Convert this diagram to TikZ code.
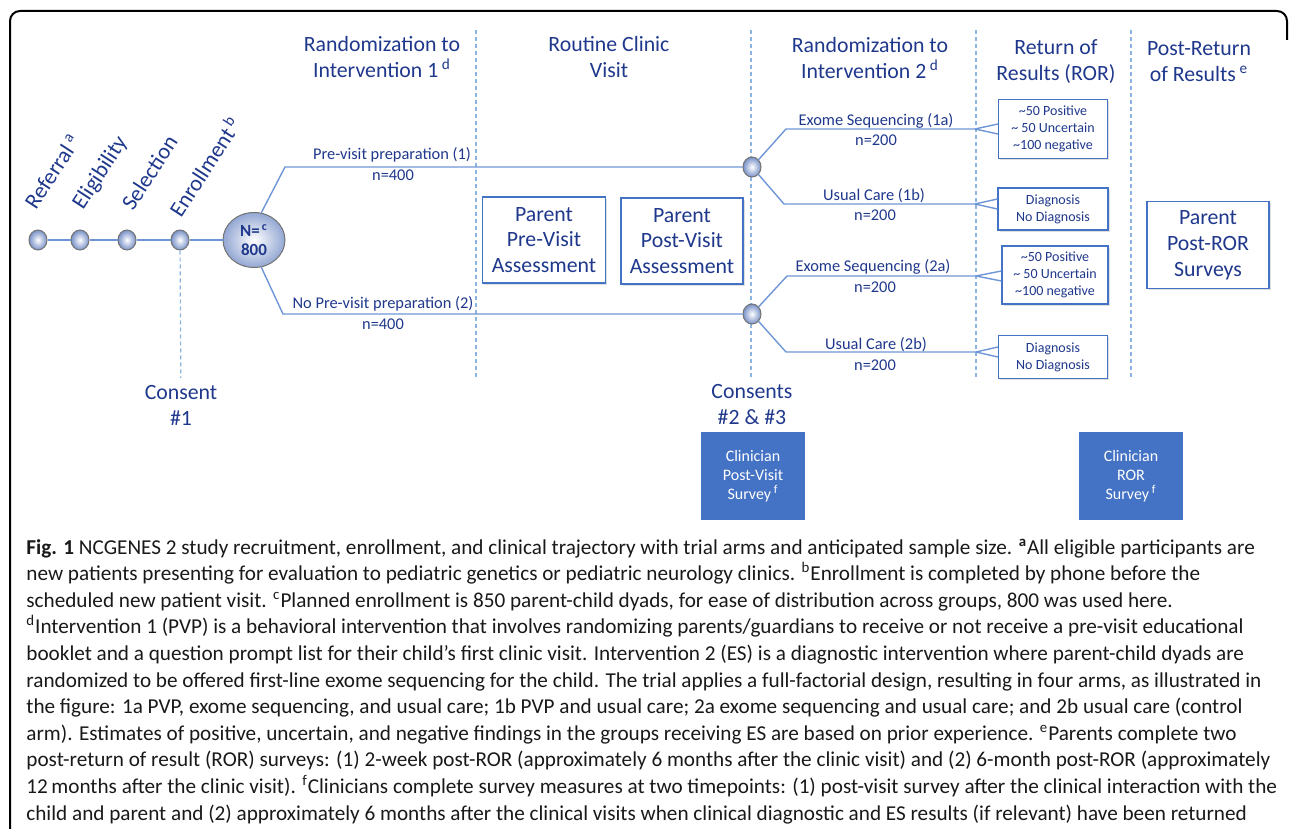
\documentclass[tikz,border=0pt]{standalone}
\usepackage{fontspec}
\setmainfont{Carlito}
\usetikzlibrary{shapes.geometric,shadows,calc}

\definecolor{navy}{RGB}{31,56,140}
\definecolor{lineblue}{RGB}{110,150,215}
\definecolor{boxblue}{RGB}{68,114,196}
\definecolor{divblue}{RGB}{140,180,225}
\definecolor{beadblue}{RGB}{120,145,200}

\begin{document}
\begin{tikzpicture}[x=0.5pt,y=-0.5pt,
  head/.style={align=center, text=navy, font=\fontsize{10.9}{13}\selectfont},
  steplabel/.style={text=navy, rotate=57, anchor=base west, inner sep=0pt,
    font=\fontsize{11.2}{13}\selectfont},
  flow/.style={draw=lineblue, line width=0.7pt},
  divider/.style={draw=divblue, line width=0.6pt, dash pattern=on 2pt off 1.5pt},
  bead/.style={ellipse, draw=black!55, line width=0.5pt, inner sep=0pt,
    minimum width=9pt, minimum height=10pt, inner color=white, outer color=beadblue},
  bignode/.style={ellipse, draw=black!55, line width=0.5pt, inner sep=0pt,
    minimum width=31pt, minimum height=27.5pt, inner color=white, outer color=beadblue!80,
    align=center, text=navy, font=\bfseries\fontsize{8.5}{9.5}\selectfont},
  armlabel/.style={text=navy, inner sep=0pt, font=\fontsize{8.2}{9.6}\selectfont},
  parentbox/.style={draw=boxblue, line width=0.6pt, fill=white, align=center, text=navy,
    inner sep=0pt, font=\fontsize{10.9}{12.9}\selectfont,
    drop shadow={shadow xshift=0.8pt, shadow yshift=-0.8pt, opacity=0.25}},
  resbox/.style={draw=boxblue, line width=0.6pt, fill=white, align=center, text=navy,
    inner sep=0pt, font=\fontsize{7}{8.5}\selectfont,
    drop shadow={shadow xshift=0.8pt, shadow yshift=-0.8pt, opacity=0.25}},
  clinbox/.style={fill=boxblue, align=center, text=white, inner sep=0pt,
    minimum width=52pt, minimum height=44pt, font=\fontsize{8}{9.5}\selectfont}]

\useasboundingbox (0,0) rectangle (1292,829);

% -------------------------------------------------
% Frame
% -------------------------------------------------
\draw[line width=1pt, rounded corners=5pt] (10,835) -- (10,11) -- (1287,11) -- (1287,40);

% -------------------------------------------------
% Column headings and dividers
% -------------------------------------------------
\node[head] (hrand1) at (382,57) {Randomization to\\Intervention 1\,\textsuperscript{d}};
\node[head] (hvisit) at (609,57) {Routine Clinic\\Visit};
\node[head] (hrand2) at (870,58) {Randomization to\\Intervention 2\,\textsuperscript{d}};
\node[head] (hror)   at (1056,62) {Return of\\Results (ROR)};
\node[head] (hpost)  at (1199,62) {Post-Return\\of Results\,\textsuperscript{e}};

\foreach \x in {476,751,976,1131}
  \draw[divider] (\x,30) -- (\x,378);

% -------------------------------------------------
% Recruitment steps
% -------------------------------------------------
\node[bead] (ref)  at (38,240) {};
\node[bead] (elig) at (80,240) {};
\node[bead] (sel)  at (127,240) {};
\node[bead] (enr)  at (180,240) {};
\node[bignode] (n800) at (254,240) {N=\textsuperscript{\,c}\\800};

\node[steplabel] (lref)  at (36,211)  {Referral\,\textsuperscript{a}};
\node[steplabel] (lelig) at (83,211)  {Eligibility};
\node[steplabel] (lsel)  at (133,212) {Selection};
\node[steplabel] (lenr)  at (181,219) {Enrollment\,\textsuperscript{b}};

\draw[flow] (ref) -- (elig) -- (sel) -- (enr) -- (n800);

\node[head] (cons1) at (181,405) {Consent\\\#1};
\draw[divider] (enr) -- (cons1);

% -------------------------------------------------
% Intervention 1 arms
% -------------------------------------------------
\node[bead] (r1) at (752,167) {};
\node[bead] (r2) at (752,314) {};
\coordinate (k1) at (285,167);
\coordinate (k2) at (283,314);

\draw[flow] (n800.75) -- (k1) -- (r1);
\draw[flow] (n800.-75) -- (k2) -- (r2);

\node[armlabel] (t1) at (392,155) {Pre-visit preparation (1)};
\node[armlabel] (m1) at (393,175) {n=400};
\node[armlabel] (t2) at (383,304) {No Pre-visit preparation (2)};
\node[armlabel] (m2) at (383,324) {n=400};

\node[parentbox, minimum width=61.5pt, minimum height=43pt] (pre)
  at (544,240) {Parent\\Pre-Visit\\Assessment};
\node[parentbox, minimum width=61pt, minimum height=43pt] (postv)
  at (682,241) {Parent\\Post-Visit\\Assessment};

\node[head] (cons2) at (752,405) {Consents\\\#2 \& \#3};

% -------------------------------------------------
% Intervention 2 arms
% -------------------------------------------------
\coordinate (e1) at (786,129);
\coordinate (e2) at (784,204);
\coordinate (e3) at (787,276);
\coordinate (e4) at (786,352);
\coordinate (f1) at (975,129);
\coordinate (f2) at (975,204);
\coordinate (f3) at (976,276);
\coordinate (f4) at (976,352);

\draw[flow] (r1) -- (e1) -- (f1);
\draw[flow] (r1) -- (e2) -- (f2);
\draw[flow] (r2) -- (e3) -- (f3);
\draw[flow] (r2) -- (e4) -- (f4);

\node[armlabel] (t1a) at (876,121) {Exome Sequencing (1a)};
\node[armlabel] (m1a) at (876,140) {n=200};
\node[armlabel] (t1b) at (874,196) {Usual Care (1b)};
\node[armlabel] (m1b) at (875,215) {n=200};
\node[armlabel] (t2a) at (873,267) {Exome Sequencing (2a)};
\node[armlabel] (m2a) at (875,287) {n=200};
\node[armlabel] (t2b) at (876,345) {Usual Care (2b)};
\node[armlabel] (m2b) at (875,365) {n=200};

% -------------------------------------------------
% Return of results
% -------------------------------------------------
\node[resbox, minimum width=54.5pt, minimum height=29.5pt] (res1) at (1053,129)
  {\textasciitilde50 Positive\\\textasciitilde\ 50 Uncertain\\\textasciitilde100 negative};
\node[resbox, minimum width=55pt, minimum height=21pt] (res2) at (1053,209)
  {Diagnosis\\No Diagnosis};
\node[resbox, minimum width=53pt, minimum height=29pt] (res3) at (1055,275)
  {\textasciitilde50 Positive\\\textasciitilde\ 50 Uncertain\\\textasciitilde100 negative};
\node[resbox, minimum width=54.5pt, minimum height=21.5pt] (res4) at (1053,357)
  {Diagnosis\\No Diagnosis};

\foreach \f/\r in {f1/res1,f2/res2,f3/res3,f4/res4} {
  \draw[flow] (\f) -- ($(\r.west |- \f)+(0,-5)$);
  \draw[flow] (\f) -- ($(\r.west |- \f)+(0,5)$);
}

\node[parentbox, minimum width=61pt, minimum height=43.5pt] (postror)
  at (1208,245) {Parent\\Post-ROR\\Surveys};

% -------------------------------------------------
% Clinician surveys
% -------------------------------------------------
\node[clinbox] (clin1) at (753,476) {Clinician\\Post-Visit\\Survey\,\textsuperscript{f}};
\node[clinbox] (clin2) at (1131,476) {Clinician\\ROR\\Survey\,\textsuperscript{f}};

% -------------------------------------------------
% Caption (base = last line)
% -------------------------------------------------
\node[anchor=base west, align=left, inner sep=0pt, text=black!90,
  font=\fontsize{10.6}{13.3}\selectfont] (caption) at (26,820) {%
\textbf{Fig. 1} NCGENES 2 study recruitment, enrollment, and clinical trajectory with trial arms and anticipated sample size. \textsuperscript{\textbf{a}}All eligible participants are\\
new patients presenting for evaluation to pediatric genetics or pediatric neurology clinics. \textsuperscript{b}Enrollment is completed by phone before the\\
scheduled new patient visit. \textsuperscript{c}Planned enrollment is 850 parent-child dyads, for ease of distribution across groups, 800 was used here.\\
\textsuperscript{d}Intervention 1 (PVP) is a behavioral intervention that involves randomizing parents/guardians to receive or not receive a pre-visit educational\\
booklet and a question prompt list for their child’s first clinic visit. Intervention 2 (ES) is a diagnostic intervention where parent-child dyads are\\
randomized to be offered first-line exome sequencing for the child. The trial applies a full-factorial design, resulting in four arms, as illustrated in\\
the figure: 1a PVP, exome sequencing, and usual care; 1b PVP and usual care; 2a exome sequencing and usual care; and 2b usual care (control\\
arm). Estimates of positive, uncertain, and negative findings in the groups receiving ES are based on prior experience. \textsuperscript{e}Parents complete two\\
post-return of result (ROR) surveys: (1) 2-week post-ROR (approximately 6 months after the clinic visit) and (2) 6-month post-ROR (approximately\\
12\,months after the clinic visit). \textsuperscript{f}Clinicians complete survey measures at two timepoints: (1) post-visit survey after the clinical interaction with the\\
child and parent and (2) approximately 6 months after the clinical visits when clinical diagnostic and ES results (if relevant) have been returned};

\end{tikzpicture}
\end{document}
